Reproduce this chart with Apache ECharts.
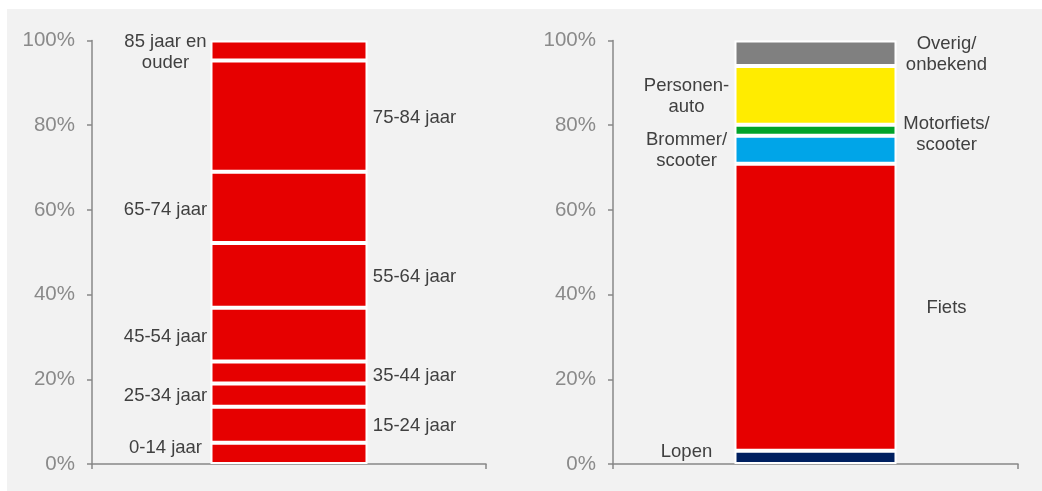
<!DOCTYPE html>
<html>
<head>
<meta charset="utf-8">
<script src="https://cdn.jsdelivr.net/npm/echarts@6/dist/echarts.min.js"></script>
<style>
  html, body { margin: 0; padding: 0; background: #ffffff; }
  #wrap { position: relative; width: 1042px; height: 491px; overflow: hidden; }
  #chart { position: absolute; left: 7px; top: 9px; width: 1035px; height: 482px; background: #f2f2f2; }
</style>
</head>
<body>
<div id="wrap"><div id="chart"></div></div>
<script>
// Left panel: share per age group (bottom to top), percent
const ageGroups = ['0-14 jaar', '15-24 jaar', '25-34 jaar', '35-44 jaar', '45-54 jaar',
                   '55-64 jaar', '65-74 jaar', '75-84 jaar', '85 jaar en\nouder'];
const ageShares = [5.0, 8.5, 5.5, 5.2, 12.7, 15.3, 16.8, 26.3, 4.7];

// Right panel: share per mode of transport (bottom to top), percent
const modes = ['Lopen', 'Fiets', 'Brommer/\nscooter', 'Motorfiets/\nscooter', 'Personen-\nauto', 'Overig/\nonbekend'];
const modeShares = [3.1, 67.8, 6.6, 2.6, 13.9, 6.0];

// Y axis tick values
const yTicks = [0, 20, 40, 60, 80, 100];

// Styling per segment: label side and fine offsets
const ageSide = ['left', 'right', 'left', 'right', 'left', 'right', 'left', 'right', 'left'];
const ageDy   = [-6, 1, 1, 3, 2, 2, 3, 2, 2];
const ageDx   = { left: -45, right: 47 };
const modeColors = ['#002060', '#e60000', '#00a5e8', '#00a32a', '#ffec00', '#808080'];
const modeSide = ['left', 'right', 'left', 'right', 'left', 'right'];
const modeDy   = [-6, 1, 1, 4, 1, 1];
const modeDx   = { left: -48, right: 50 };

const axisColor = '#888888';
const labelFont = { fontFamily: 'Liberation Sans, Arial, sans-serif', fontSize: 18.5, lineHeight: 21, color: '#404040' };

function makeXAxis(gridIndex) {
  return {
    type: 'category', gridIndex: gridIndex, data: [''],
    boundaryGap: true,
    axisLine: { lineStyle: { color: axisColor, width: 1.5 } },
    axisTick: { show: true, length: 5, lineStyle: { color: axisColor, width: 1.5 } },
    axisLabel: { show: false }
  };
}
function makeYAxis(gridIndex) {
  return {
    type: 'value', gridIndex: gridIndex,
    min: yTicks[0], max: yTicks[yTicks.length - 1], interval: yTicks[1] - yTicks[0],
    axisLine: { show: true, lineStyle: { color: axisColor, width: 1.5 } },
    axisTick: { show: true, length: 5, lineStyle: { color: axisColor, width: 1.5 } },
    splitLine: { show: false },
    axisLabel: {
      formatter: '{value}%', margin: 17,
      fontFamily: 'Liberation Sans, Arial, sans-serif', fontSize: 20.5, color: '#8a8a8a'
    }
  };
}

const series = [];
ageGroups.forEach(function (name, i) {
  const side = ageSide[i];
  series.push({
    type: 'bar', name: name, stack: 'age', xAxisIndex: 0, yAxisIndex: 0,
    barWidth: 157,
    data: [ageShares[i]],
    itemStyle: { color: '#e60000', borderColor: '#ffffff', borderWidth: 2 },
    label: Object.assign({
      show: true, position: side, distance: 0, align: 'center', verticalAlign: 'middle',
      offset: [ageDx[side], ageDy[i]],
      formatter: function (p) { return p.seriesName; }
    }, labelFont),
    animation: false
  });
});
modes.forEach(function (name, i) {
  const side = modeSide[i];
  series.push({
    type: 'bar', name: name, stack: 'mode', xAxisIndex: 1, yAxisIndex: 1,
    barWidth: 162,
    data: [modeShares[i]],
    itemStyle: { color: modeColors[i], borderColor: '#ffffff', borderWidth: 2 },
    label: Object.assign({
      show: true, position: side, distance: 0, align: 'center', verticalAlign: 'middle',
      offset: [modeDx[side], modeDy[i]],
      formatter: function (p) { return p.seriesName; }
    }, labelFont),
    animation: false
  });
});

const chart = echarts.init(document.getElementById('chart'), null, { renderer: 'canvas' });
chart.setOption({
  backgroundColor: '#f2f2f2',
  animation: false,
  grid: [
    { left: 85, top: 31.5, width: 394, height: 423.5 },
    { left: 606, top: 31.5, width: 405, height: 423.5 }
  ],
  xAxis: [makeXAxis(0), makeXAxis(1)],
  yAxis: [makeYAxis(0), makeYAxis(1)],
  series: series
});
</script>
</body>
</html>
